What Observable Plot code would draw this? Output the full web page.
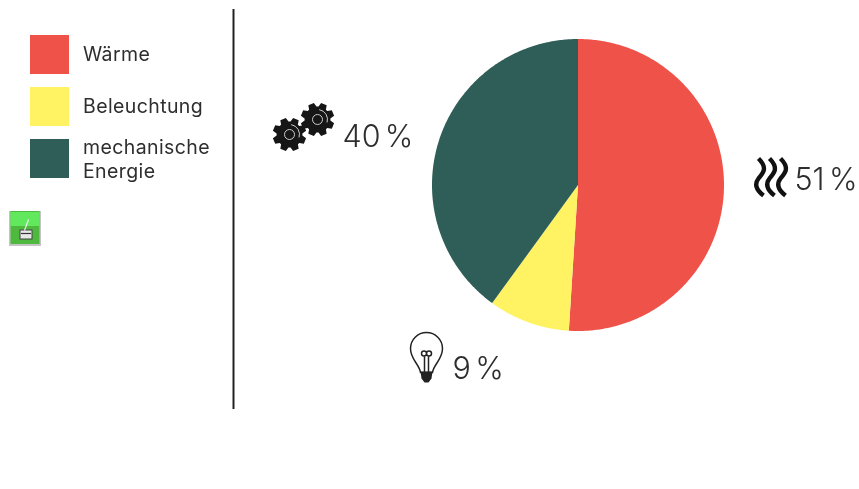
<!DOCTYPE html>
<html lang="de">
<head>
<meta charset="utf-8">
<script src="https://cdn.jsdelivr.net/npm/d3@7"></script>
<script src="https://cdn.jsdelivr.net/npm/@observablehq/plot@0.6"></script>
<style>
html,body{margin:0;padding:0;background:#fff}
svg{display:block;filter:blur(.35px)}
.share text{word-spacing:-.14em}
.legend text{letter-spacing:.02em}
</style>
</head>
<body>
<div id="chart"></div>
<script>
const categories = ["Wärme", "Beleuchtung", "mechanische Energie"];
const legendLabels = ["Wärme", "Beleuchtung", "mechanische\nEnergie"];
const shares = [51, 9, 40];
const shareLabels = ["51 %", "9 %", "40 %"];
const colours = ["#EF5249", "#FFF263", "#2F5D57"];

// Layout
const W = 859, H = 489, FONT = "Inter, 'Noto Sans', sans-serif", INK = "#2e2e2e";
const cx = 577.5, cy = 184.5, R = 146;
const legendX = 30, legendSize = 39, legendTops = [35, 87, 139], legendTextX = 82.5, legendTextY = [52.5, 104.5, 157.5];
const labelPos = [[794, 180], [452, 369], [342, 137]];

// Pie geometry from the shares
const arcs = d3.pie().sort(null)(shares);
const piePoints = arcs.flatMap((a, i) => {
  const n = Math.max(2, Math.ceil((a.endAngle - a.startAngle) * 90));
  const pts = [{category: categories[i], x: cx, y: cy}];
  for (let k = 0; k <= n; k++) {
    const t = a.startAngle + (a.endAngle - a.startAngle) * k / n;
    pts.push({category: categories[i], x: cx + R * Math.sin(t), y: cy - R * Math.cos(t)});
  }
  return pts;
});

// Custom symbols for the icons
const sym = f => ({draw(c, size) { f(c, Math.sqrt(size / Math.PI)); }});
const gearSym = sym((c, r) => {
  const teeth = 8, ro = r, ri = r * 0.76;
  for (let i = 0; i < teeth; i++) {
    const a = (i + .5) / teeth * 2 * Math.PI, w = Math.PI / teeth;
    const p = [[a - w * .8, ri], [a - w * .45, ro], [a + w * .45, ro], [a + w * .8, ri]];
    p.forEach(([t, q], j) => {
      const x = q * Math.cos(t), y = q * Math.sin(t);
      (i === 0 && j === 0) ? c.moveTo(x, y) : c.lineTo(x, y);
    });
  }
  c.closePath();
});
const ringSym = sym((c, r) => { c.moveTo(r, 0); c.arc(0, 0, r, 0, 2 * Math.PI); });
const arcSym = sym((c, r) => { c.moveTo(r * Math.cos(-1.4), r * Math.sin(-1.4)); c.arc(0, 0, r, -1.4, 0.3); });
const waveSym = sym((c, r) => {
  const s = r / 19;
  c.moveTo(-1 * s, -19 * s);
  c.bezierCurveTo(9 * s, -9 * s, 3 * s, -4 * s, -1 * s, 1 * s);
  c.bezierCurveTo(-5 * s, 6 * s, -4 * s, 12 * s, 4 * s, 18 * s);
});
const bulbSym = sym((c, r) => {
  const s = r / 16;
  c.moveTo(-6 * s, 24 * s);
  c.bezierCurveTo(-7 * s, 16 * s, -16 * s, 11 * s, -16 * s, 0);
  c.arc(0, 0, 16 * s, Math.PI, 0);
  c.bezierCurveTo(16 * s, 11 * s, 7 * s, 16 * s, 6 * s, 24 * s);
  c.closePath();
  c.moveTo(-2 * s, 24 * s); c.lineTo(-2 * s, 7 * s);
  c.moveTo(2 * s, 24 * s); c.lineTo(2 * s, 7 * s);
  c.moveTo(0, 5 * s); c.arc(-2.5 * s, 5 * s, 2.5 * s, 0, 2 * Math.PI);
  c.moveTo(5 * s, 5 * s); c.arc(2.5 * s, 5 * s, 2.5 * s, 0, 2 * Math.PI);
});
const baseSym = sym((c, r) => {
  const s = r / 6;
  c.moveTo(-6 * s, -5 * s); c.lineTo(6 * s, -5 * s); c.lineTo(5 * s, 2 * s);
  c.lineTo(2 * s, 6 * s); c.lineTo(-2 * s, 6 * s); c.lineTo(-5 * s, 2 * s); c.closePath();
});

const at = (x, y) => [{x, y}];
const gears = [[289, 134], [317, 119]];
const chart = Plot.plot({
  width: W, height: H, margin: 0,
  x: {type: "identity", axis: null}, y: {type: "identity", axis: null},
  color: {domain: categories, range: colours},
  style: {background: "#fff", fontFamily: FONT},
  marks: [
    // divider
    Plot.ruleX([233], {y1: 9, y2: 409, stroke: "#222", strokeWidth: 2}),
    // pie
    Plot.line(piePoints, {x: "x", y: "y", z: "category", fill: "category", stroke: null, curve: "linear"}),
    // legend
    Plot.rect(categories, {
      x1: legendX, x2: legendX + legendSize,
      y1: (d, i) => legendTops[i], y2: (d, i) => legendTops[i] + legendSize,
      fill: d => d
    }),
    Plot.text(legendLabels, {
      className: "legend",
      x: legendTextX, y: (d, i) => legendTextY[i], text: d => d,
      textAnchor: "start", fontSize: 19.5, lineHeight: 1.28, fill: INK, fontFamily: FONT
    }),
    // share labels
    Plot.text(shareLabels, {
      className: "share",
      x: (d, i) => labelPos[i][0], y: (d, i) => labelPos[i][1], text: d => d,
      textAnchor: "start", fontSize: 30.5, fill: INK, fontFamily: FONT, fontWeight: 300
    }),
    // gears icon
    Plot.dot(gears, {x: d => d[0], y: d => d[1], r: 17, symbol: gearSym, fill: "#161616", stroke: null}),
    Plot.dot(gears, {x: d => d[0], y: d => d[1], r: 10, symbol: arcSym, fill: "none", stroke: "#ccc", strokeWidth: 1}),
    Plot.dot(gears, {x: d => d[0], y: d => d[1], r: 5, symbol: ringSym, fill: "#161616", stroke: "#ccc", strokeWidth: 1}),
    // heat waves icon
    Plot.dot([[759, 177], [770, 177], [781, 177]], {x: d => d[0], y: d => d[1], r: 19, symbol: waveSym, fill: "none", stroke: "#111", strokeWidth: 4.4}),
    // bulb icon
    Plot.dot(at(426, 348), {x: "x", y: "y", r: 16, symbol: bulbSym, fill: "none", stroke: "#222", strokeWidth: 1.5}),
    Plot.dot(at(426, 376), {x: "x", y: "y", r: 6, symbol: baseSym, fill: "#222", stroke: null}),
    // small green tool icon
    Plot.rect(at(0, 0), {x1: 9, x2: 41, y1: 211, y2: 246, fill: "#c4c4c4"}),
    Plot.rect(at(0, 0), {x1: 10.5, x2: 39.5, y1: 211, y2: 244, fill: "#4fb83f"}),
    Plot.rect(at(0, 0), {x1: 10.5, x2: 39.5, y1: 212, y2: 226, fill: "#62e85c"}),
    Plot.rect(at(0, 0), {x1: 20, x2: 32, y1: 230, y2: 239, fill: "#e8e8e8", stroke: "#444", strokeWidth: 1}),
    Plot.link(at(0, 0), {x1: 24, y1: 230, x2: 28, y2: 219, stroke: "#eee", strokeWidth: 1.2}),
    Plot.ruleY(at(0, 0), {y: 233, x1: 21, x2: 31, stroke: "#333", strokeWidth: 1.2})
  ]
});
document.getElementById("chart").append(chart);
</script>
</body>
</html>
